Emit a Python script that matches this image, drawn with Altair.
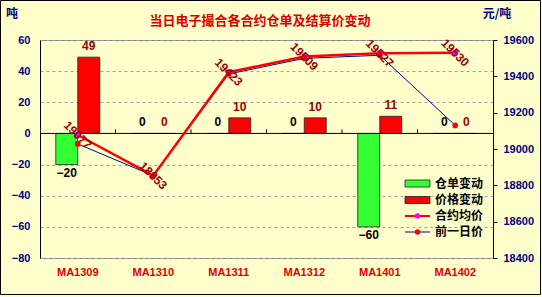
import altair as alt
import pandas as pd

# Contracts and daily figures
contracts = ["MA1309", "MA1310", "MA1311", "MA1312", "MA1401", "MA1402"]
receipt_change = [-20, 0, 0, 0, -60, 0]        # 仓单变动 (吨)
price_change = [49, 0, 10, 10, 11, 0]          # 价格变动 (元/吨)
avg_price = [19077, 18853, 19423, 19509, 19527, 19530]   # 合约均价
prev_price = [19028, 18853, 19413, 19499, 19516, 19130]  # 前一日价

bar_series = ["仓单变动", "价格变动"]
line_series = ["合约均价", "前一日价"]
left_ticks = [-80, -60, -40, -20, 0, 20, 40, 60]
right_ticks = [18400, 18600, 18800, 19000, 19200, 19400, 19600]

title_text = "当日电子撮合各合约仓单及结算价变动"
left_unit = "吨"
right_unit = "元/吨"

NUM_FONT = "Liberation Sans"
CJK_FONT = "Noto Sans CJK SC"
DARK_RED = "#990000"
NAVY = "#000080"

bars = pd.DataFrame({
    "contract": contracts * 2,
    "series": [bar_series[0]] * len(contracts) + [bar_series[1]] * len(contracts),
    "value": receipt_change + price_change,
})
bars["base"] = 0
prices = pd.DataFrame({"contract": contracts, "avg": avg_price, "prev": prev_price})
zero_df = pd.DataFrame({"value": [0]})
bounds_df = pd.DataFrame({"contract": contracts[1:], "lo": 0, "hi": 2.6})
one = pd.DataFrame({"k": [0]})


def x_enc(**kw):
    return alt.X(
        "contract:N", sort=contracts,
        scale=alt.Scale(paddingInner=0, paddingOuter=0),
        axis=alt.Axis(title=None, labelAngle=0, domain=False, ticks=False,
                      labelColor="#E00000", labelFont=NUM_FONT,
                      labelFontWeight="bold", labelFontSize=11, labelPadding=8),
        **kw,
    )


def y_left(field):
    return alt.Y(
        field, scale=alt.Scale(domain=[-80, 60], nice=False, zero=False),
        axis=alt.Axis(values=left_ticks, title=None, grid=True, gridDash=[3, 3],
                      gridColor="#A0A0A0", domainColor="black", ticks=False,
                      tickSize=0, labelColor=NAVY, labelFont=NUM_FONT,
                      labelFontWeight="bold", labelFontSize=11, labelPadding=10,
                      format="d"),
    )


def y_right(field):
    return alt.Y(
        field, scale=alt.Scale(domain=[18400, 19600], nice=False, zero=False),
        axis=alt.Axis(orient="right", values=right_ticks, title=None, grid=False,
                      domainColor="black", tickColor="black", tickSize=4,
                      labelColor=NAVY, labelFont=NUM_FONT, labelFontWeight="bold",
                      labelFontSize=11, labelPadding=6, format="d"),
    )


x_off = alt.XOffset("series:N", sort=bar_series,
                    scale=alt.Scale(paddingInner=0, paddingOuter=0.716))

bar_layer = alt.Chart(bars).mark_bar(stroke="#222222", strokeWidth=0.8).encode(
    x=x_enc(), xOffset=x_off, y=y_left("value:Q"), y2="base:Q",
    color=alt.Color("series:N", scale=alt.Scale(domain=bar_series,
                    range=["#33FF33", "#FF0000"]), legend=None),
)

label_color = alt.condition(alt.datum.series == bar_series[0],
                            alt.value("black"), alt.value(DARK_RED))

pos_labels = alt.Chart(bars).transform_filter(alt.datum.value >= 0).mark_text(
    baseline="bottom", dy=-4, font=NUM_FONT, fontWeight="bold", fontSize=12,
).encode(x=x_enc(), xOffset=x_off, y=y_left("value:Q"),
         text=alt.Text("value:Q", format="d"), color=label_color)

neg_labels = alt.Chart(bars).transform_filter(alt.datum.value < 0).mark_text(
    baseline="top", dy=3, font=NUM_FONT, fontWeight="bold", fontSize=12,
).encode(x=x_enc(), xOffset=x_off, y=y_left("value:Q"),
         text=alt.Text("value:Q", format="d"), color=label_color)

zero_line = alt.Chart(zero_df).mark_rule(color="black", strokeWidth=1).encode(
    y=y_left("value:Q"))

bound_ticks = alt.Chart(bounds_df).mark_rule(color="black", strokeWidth=1).encode(
    x=x_enc(bandPosition=0), y=y_left("lo:Q"), y2="hi:Q")

left = alt.layer(bar_layer, zero_line, bound_ticks, pos_labels, neg_labels)

prev_line = alt.Chart(prices).mark_line(color="#0000A0", strokeWidth=1).encode(
    x=x_enc(), y=y_right("prev:Q"))
avg_line = alt.Chart(prices).mark_line(color="#FF0000", strokeWidth=2.5).encode(
    x=x_enc(), y=y_right("avg:Q"))
avg_pts = alt.Chart(prices).mark_circle(color="#FF00FF", size=38, opacity=1).encode(
    x=x_enc(), y=y_right("avg:Q"))
prev_pts = alt.Chart(prices).mark_circle(color="#FF0000", size=32, opacity=1).encode(
    x=x_enc(), y=y_right("prev:Q"))
avg_text = alt.Chart(prices).mark_text(
    angle=45, font=NUM_FONT, fontWeight="bold", fontSize=12, color=DARK_RED,
).encode(x=x_enc(), y=y_right("avg:Q"), text=alt.Text("avg:Q", format="d"))

right = alt.layer(prev_line, avg_line, avg_pts, prev_pts, avg_text)

# Title, unit captions, legend and frame, placed in pixels around the plot
def txt(s, x, y, color, size, font, align="center"):
    return alt.Chart(one).mark_text(
        text=s, color=color, fontSize=size, font=font, fontWeight="bold",
        align=align, baseline="middle",
    ).encode(x=alt.value(x), y=alt.value(y))


decor = [
    txt(title_text, 220, -19, "#DD0000", 13, CJK_FONT),
    txt(left_unit, -28, -26, NAVY, 12, CJK_FONT),
    txt(right_unit, 457, -26, NAVY, 12, CJK_FONT),
]

legend_rows = [143.5, 160, 176, 192]
legend_layers = []
for name, fill, yy in zip(bar_series, ["#33FF33", "#FF0000"], legend_rows[:2]):
    legend_layers.append(
        alt.Chart(one).mark_rect(fill=fill, stroke="#222222", strokeWidth=0.8).encode(
            x=alt.value(365), x2=alt.value(390), y=alt.value(yy - 3.5),
            y2=alt.value(yy + 3.5)))
    legend_layers.append(txt(name, 395, yy, "black", 12, CJK_FONT, align="left"))
for name, lc, lw, pc, yy in zip(line_series, ["#FF0000", "#0000A0"], [2, 1],
                                ["#FF00FF", "#FF0000"], legend_rows[2:]):
    legend_layers.append(
        alt.Chart(one).mark_rule(color=lc, strokeWidth=lw).encode(
            x=alt.value(365), x2=alt.value(390), y=alt.value(yy)))
    legend_layers.append(
        alt.Chart(one).mark_circle(color=pc, size=30, opacity=1).encode(
            x=alt.value(377.5), y=alt.value(yy)))
    legend_layers.append(txt(name, 395, yy, "black", 12, CJK_FONT, align="left"))

frame = alt.Chart(one).mark_rect(fillOpacity=0, stroke="black", strokeWidth=1).encode(
    x=alt.value(-39.5), x2=alt.value(500.5), y=alt.value(-39.5), y2=alt.value(254.5))

chart = alt.layer(left, right, *decor, *legend_layers, frame).resolve_scale(
    y="independent"
).properties(
    width=453, height=218,
    autosize=alt.AutoSizeParams(type="none"),
    padding={"left": 40, "top": 40, "right": 49, "bottom": 39},
    background="#FFFFCC",
).configure_view(stroke="#808080", strokeWidth=1)

chart.save("out.html", embed_options={"renderer": "svg", "actions": False})
